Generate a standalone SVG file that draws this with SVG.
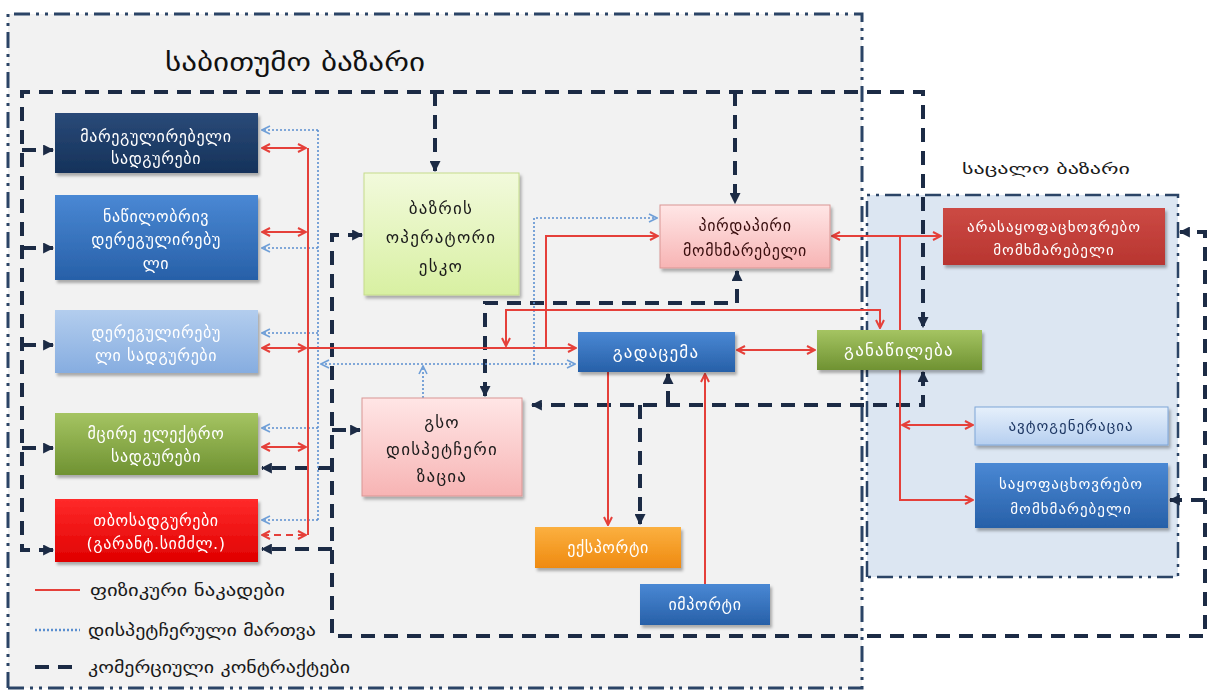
<svg xmlns="http://www.w3.org/2000/svg" width="1210" height="693" viewBox="0 0 1210 693">
<style>
.t{font-family:"DejaVu Sans",sans-serif;text-anchor:middle;font-size:16px;letter-spacing:0.6px}
.w{fill:#ffffff}
.k{fill:#1a1a1a}
.r{fill:none;stroke:#e5403a;stroke-width:2}
.b{fill:none;stroke:#5b8fd0;stroke-width:1.6;stroke-dasharray:2 2}
.n{fill:none;stroke:#1c2b45;stroke-width:4;stroke-dasharray:14 9}
.bd{fill:none;stroke:#2b4466;stroke-width:3;stroke-dasharray:16 6 3 6 3 6}
.lg{font-family:"DejaVu Sans",sans-serif;font-size:17px;fill:#1a1a1a}
.big{font-size:17px;letter-spacing:1.2px}
.rt{font-size:15px;letter-spacing:1px}
</style>
<defs>
<marker id="ra" viewBox="0 0 10 10" refX="9" refY="5" markerWidth="10" markerHeight="10" markerUnits="userSpaceOnUse" orient="auto-start-reverse"><path d="M1,1 L9,5 L1,9" fill="none" stroke="#e5403a" stroke-width="2"/></marker>
<marker id="ba" viewBox="0 0 10 10" refX="9" refY="5" markerWidth="10" markerHeight="10" markerUnits="userSpaceOnUse" orient="auto-start-reverse"><path d="M1,1 L9,5 L1,9" fill="none" stroke="#6f9fd8" stroke-width="1.6"/></marker>
<marker id="na" viewBox="0 0 10 10" refX="9" refY="5" markerWidth="11" markerHeight="11" markerUnits="userSpaceOnUse" orient="auto-start-reverse"><path d="M0,0 L10,5 L0,10 z" fill="#1c2b45"/></marker>
<filter id="sh" x="-10%" y="-10%" width="130%" height="140%"><feDropShadow dx="2" dy="3" stdDeviation="1.5" flood-color="#000" flood-opacity="0.3"/></filter>
<linearGradient id="gNavy" x1="0" y1="0" x2="0" y2="1"><stop offset="0" stop-color="#2a4a78"/><stop offset="1" stop-color="#15325a"/></linearGradient>
<linearGradient id="gBlue" x1="0" y1="0" x2="0" y2="1"><stop offset="0" stop-color="#4a88d4"/><stop offset="1" stop-color="#2760a8"/></linearGradient>
<linearGradient id="gLBlue" x1="0" y1="0" x2="0" y2="1"><stop offset="0" stop-color="#b3cdee"/><stop offset="1" stop-color="#86ade0"/></linearGradient>
<linearGradient id="gGreen" x1="0" y1="0" x2="0" y2="1"><stop offset="0" stop-color="#a5c462"/><stop offset="1" stop-color="#6f9232"/></linearGradient>
<linearGradient id="gRed" x1="0" y1="0" x2="0" y2="1"><stop offset="0" stop-color="#ff2a2a"/><stop offset="1" stop-color="#e00000"/></linearGradient>
<linearGradient id="gLime" x1="0" y1="0" x2="0" y2="1"><stop offset="0" stop-color="#f2fadc"/><stop offset="1" stop-color="#d8f0a2"/></linearGradient>
<linearGradient id="gPink" x1="0" y1="0" x2="0" y2="1"><stop offset="0" stop-color="#ffe6e6"/><stop offset="1" stop-color="#f7b4b4"/></linearGradient>
<linearGradient id="gOrange" x1="0" y1="0" x2="0" y2="1"><stop offset="0" stop-color="#fbb040"/><stop offset="1" stop-color="#ef8a10"/></linearGradient>
<linearGradient id="gDRed" x1="0" y1="0" x2="0" y2="1"><stop offset="0" stop-color="#cc4a44"/><stop offset="1" stop-color="#b83530"/></linearGradient>
<linearGradient id="gAuto" x1="0" y1="0" x2="0" y2="1"><stop offset="0" stop-color="#e6f0fb"/><stop offset="1" stop-color="#b6cff0"/></linearGradient>
</defs>

<g id="regions">
<rect x="8" y="14" width="854" height="674" fill="#f2f2f2"/>
<rect x="867" y="195" width="311" height="382" fill="#dce6f2"/>
<path class="bd" d="M8,688 V14 H862 V688 H8"/>
<path class="bd" d="M867,577 V195 H1178 V577 H867" style="stroke-width:2.5"/>
<text x="165" y="71" font-family="DejaVu Sans, sans-serif" font-size="25" fill="#111" textLength="260" lengthAdjust="spacingAndGlyphs">საბითუმო ბაზარი</text>
<text x="962" y="174" font-family="DejaVu Sans, sans-serif" font-size="15" fill="#1a1a1a" textLength="168" lengthAdjust="spacingAndGlyphs">საცალო ბაზარი</text>
</g>

<g id="connectors">
<!-- commercial contracts (dashed) -->
<path class="n" d="M53,550 H22 V92 H923 V327" marker-start="url(#na)" marker-end="url(#na)"/>
<path class="n" d="M22,150 H53" marker-end="url(#na)"/>
<path class="n" d="M22,248 H53" marker-end="url(#na)"/>
<path class="n" d="M22,345 H53" marker-end="url(#na)"/>
<path class="n" d="M22,448 H53" marker-end="url(#na)"/>
<path class="n" d="M435,92 V171" marker-end="url(#na)"/>
<path class="n" d="M735,92 V203" marker-end="url(#na)"/>
<path class="n" d="M923,372 V405 H532" marker-start="url(#na)" marker-end="url(#na)"/>
<path class="n" d="M485,396 V303 H737 V271" marker-start="url(#na)" marker-end="url(#na)"/>
<path class="n" d="M668,405 V374" marker-end="url(#na)"/>
<path class="n" d="M640,405 V524" marker-end="url(#na)"/>
<path class="n" d="M362,235 H332 V636 H1205 V232 H1180" marker-start="url(#na)" marker-end="url(#na)"/>
<path class="n" d="M1205,500 H1170" marker-end="url(#na)"/>
<path class="n" d="M332,430 H360" marker-end="url(#na)"/>
<path class="n" d="M332,468 H262" marker-end="url(#na)"/>
<path class="n" d="M332,549 H262" marker-end="url(#na)"/>
<!-- dispatch (dotted) -->
<path class="b" d="M318,130 V520"/>
<path class="b" d="M318,130 H262" marker-end="url(#ba)"/>
<path class="b" d="M318,248 H262" marker-end="url(#ba)"/>
<path class="b" d="M318,333 H262" marker-end="url(#ba)"/>
<path class="b" d="M318,428 H262" marker-end="url(#ba)"/>
<path class="b" d="M318,520 H262" marker-end="url(#ba)"/>
<path class="b" d="M321,364 H575" marker-start="url(#ba)" marker-end="url(#ba)"/>
<path class="b" d="M534,364 V218 H657" marker-end="url(#ba)"/>
<path class="b" d="M423,398 V366" marker-end="url(#ba)"/>
<!-- physical flows (red) -->
<path class="r" d="M308,148 V535"/>
<path class="r" d="M262,148 H306" marker-start="url(#ra)" marker-end="url(#ra)"/>
<path class="r" d="M262,232 H306" marker-start="url(#ra)" marker-end="url(#ra)"/>
<path class="r" d="M262,348 H306" marker-start="url(#ra)" marker-end="url(#ra)"/>
<path class="r" d="M262,447 H306" marker-start="url(#ra)" marker-end="url(#ra)"/>
<path class="r" d="M262,535 H306" style="stroke-dasharray:7 5" marker-start="url(#ra)" marker-end="url(#ra)"/>
<path class="r" d="M308,348 H576" marker-end="url(#ra)"/>
<path class="r" d="M546,348 V236 H658" marker-end="url(#ra)"/>
<path class="r" d="M506,346 V310 H880 V328" marker-start="url(#ra)" marker-end="url(#ra)"/>
<path class="r" d="M737,350 H815" marker-start="url(#ra)" marker-end="url(#ra)"/>
<path class="r" d="M608,372 V525" marker-end="url(#ra)"/>
<path class="r" d="M705,584 V374" marker-end="url(#ra)"/>
<path class="r" d="M832,236 H941" marker-start="url(#ra)" marker-end="url(#ra)"/>
<path class="r" d="M900,236 V500 H973" marker-end="url(#ra)"/>
<path class="r" d="M902,425 H973" marker-start="url(#ra)" marker-end="url(#ra)"/>
</g>

<g id="n-regulated" filter="url(#sh)"><rect x="55" y="113" width="203" height="60" fill="url(#gNavy)"/>
<text class="t w" x="156" y="142">მარეგულირებელი</text><text class="t w" x="156" y="164">სადგურები</text></g>
<g id="n-partial" filter="url(#sh)"><rect x="55" y="195" width="203" height="85" fill="url(#gBlue)"/>
<text class="t w" x="156" y="222">ნაწილობრივ</text><text class="t w" x="156" y="245">დერეგულირებუ</text><text class="t w" x="156" y="269">ლი</text></g>
<g id="n-dereg" filter="url(#sh)"><rect x="55" y="310" width="203" height="63" fill="url(#gLBlue)"/>
<text class="t w" x="156" y="338">დერეგულირებუ</text><text class="t w" x="156" y="361">ლი სადგურები</text></g>
<g id="n-small" filter="url(#sh)"><rect x="55" y="413" width="203" height="62" fill="url(#gGreen)"/>
<text class="t w" x="156" y="439">მცირე ელექტრო</text><text class="t w" x="156" y="462">სადგურები</text></g>
<g id="n-thermal" filter="url(#sh)"><rect x="55" y="499" width="203" height="63" fill="url(#gRed)"/>
<text class="t w" x="156" y="526">თბოსადგურები</text><text class="t w" x="156" y="549">(გარანტ.სიმძლ.)</text></g>

<g id="n-esco" filter="url(#sh)"><rect x="364" y="173" width="155" height="122" fill="url(#gLime)" stroke="#c5dc8c"/>
<text class="t k big" x="441" y="214">ბაზრის</text><text class="t k big" x="441" y="243">ოპერატორი</text><text class="t k big" x="441" y="272">ესკო</text></g>
<g id="n-gso" filter="url(#sh)"><rect x="362" y="398" width="160" height="98" fill="url(#gPink)" stroke="#d99694"/>
<text class="t k big" x="442" y="428">გსო</text><text class="t k big" x="442" y="455">დისპეტჩერი</text><text class="t k big" x="442" y="482">ზაცია</text></g>
<g id="n-direct" filter="url(#sh)"><rect x="660" y="205" width="170" height="63" fill="url(#gPink)" stroke="#d99694"/>
<text class="t" x="745" y="231" fill="#3a1010">პირდაპირი</text><text class="t" x="745" y="256" fill="#3a1010">მომხმარებელი</text></g>
<g id="n-trans" filter="url(#sh)"><rect x="578" y="332" width="157" height="40" fill="url(#gBlue)"/>
<text class="t w big" x="656" y="358">გადაცემა</text></g>
<g id="n-dist" filter="url(#sh)"><rect x="817" y="330" width="165" height="40" fill="url(#gGreen)"/>
<text class="t w big" x="899" y="356">განაწილება</text></g>
<g id="n-export" filter="url(#sh)"><rect x="535" y="527" width="146" height="41" fill="url(#gOrange)"/>
<text class="t w" x="608" y="553">ექსპორტი</text></g>
<g id="n-import" filter="url(#sh)"><rect x="640" y="584" width="130" height="41" fill="url(#gBlue)"/>
<text class="t w" x="705" y="610">იმპორტი</text></g>
<g id="n-nonres" filter="url(#sh)"><rect x="943" y="208" width="222" height="57" fill="url(#gDRed)"/>
<text class="t w rt" x="1054" y="232">არასაყოფაცხოვრებო</text><text class="t w rt" x="1054" y="255">მომხმარებელი</text></g>
<g id="n-autogen" filter="url(#sh)"><rect x="975" y="407" width="193" height="38" fill="url(#gAuto)" stroke="#7ea6d8"/>
<text class="t rt" x="1071" y="431" fill="#1f3864">ავტოგენერაცია</text></g>
<g id="n-res" filter="url(#sh)"><rect x="975" y="463" width="193" height="65" fill="url(#gBlue)"/>
<text class="t w rt" x="1071" y="489">საყოფაცხოვრებო</text><text class="t w rt" x="1071" y="514">მომხმარებელი</text></g>

<g id="legend">
<path class="r" d="M35,590 H80"/>
<text class="lg" x="90" y="596" textLength="195" lengthAdjust="spacingAndGlyphs">ფიზიკური ნაკადები</text>
<path class="b" d="M35,630 H80" style="stroke-width:2.5"/>
<text class="lg" x="88" y="636" textLength="228" lengthAdjust="spacingAndGlyphs">დისპეტჩერული მართვა</text>
<path class="n" d="M35,667 H80"/>
<text class="lg" x="88" y="673" textLength="262" lengthAdjust="spacingAndGlyphs">კომერციული კონტრაქტები</text>
</g>
</svg>
